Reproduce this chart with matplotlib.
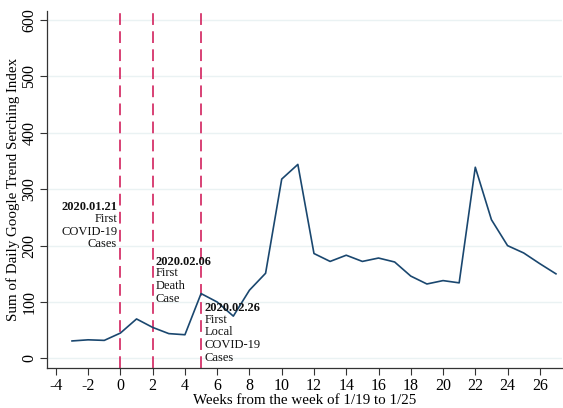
import matplotlib
matplotlib.use("Agg")
import matplotlib.pyplot as plt

weeks = list(range(-3, 28))
index_values = [31, 33, 32, 45, 70, 55, 44, 42, 115, 100, 75, 121, 151, 318, 344,
                186, 172, 183, 172, 178, 171, 146, 132, 138, 134, 339, 246, 200, 187, 168, 150]
event_weeks = [0, 2, 5]
event_dates = ["2020.01.21", "2020.02.06", "2020.02.26"]
event_texts = ["First\nCOVID-19\nCases", "First\nDeath\nCase", "First\nLocal\nCOVID-19\nCases"]
xticks = list(range(-4, 27, 2))
yticks = [0, 100, 200, 300, 400, 500, 600]

plt.rcParams['font.family'] = ['Liberation Serif', 'DejaVu Serif']

fig = plt.figure(figsize=(5.63, 4.08), dpi=100)
ax = fig.add_axes([0.0835, 0.098, 0.914, 0.875])

for y in yticks:
    ax.axhline(y, color='#eaf2f3', lw=1.0, zorder=0)

ax.plot(weeks, index_values, color='#1a476f', lw=1.2, zorder=3)

for w in event_weeks:
    ax.axvline(w, color='#d6336a', lw=1.3, ls=(0, (6.5, 3.5)), zorder=2)

ax.set_xlim(-4.55, 27.35)
ax.set_ylim(-17, 616)
ax.set_xticks(xticks)
ax.set_yticks(yticks)
ax.set_xticklabels([str(t) for t in xticks], fontsize=11.5)
ax.set_yticklabels([str(t) for t in yticks], fontsize=11.5, rotation=90, va='center')
ax.tick_params(direction='out', length=5, width=0.8, color='#333333', pad=2)
for s in ['top', 'right']:
    ax.spines[s].set_visible(False)
for s in ['left', 'bottom']:
    ax.spines[s].set_color('#333333')
    ax.spines[s].set_linewidth(0.9)

ax.set_xlabel("Weeks from the week of 1/19 to 1/25", fontsize=10.8, labelpad=0)
ax.set_ylabel("Sum of Daily Google Trend Serching Index", fontsize=10.8, labelpad=1)

# annotations
ann_pos = [(-0.2, 279, 'right'), (2.2, 182, 'left'), (5.2, 100, 'left')]
for (x, y, ha), d, t in zip(ann_pos, event_dates, event_texts):
    ax.text(x, y, d, fontsize=9, fontweight='bold', ha=ha, va='top', color='#111111')
    ax.text(x, y - 20.5, t, fontsize=9, ha=ha, va='top', color='#111111', linespacing=1.1)

fig.savefig("out.png", dpi=100, facecolor='white')
